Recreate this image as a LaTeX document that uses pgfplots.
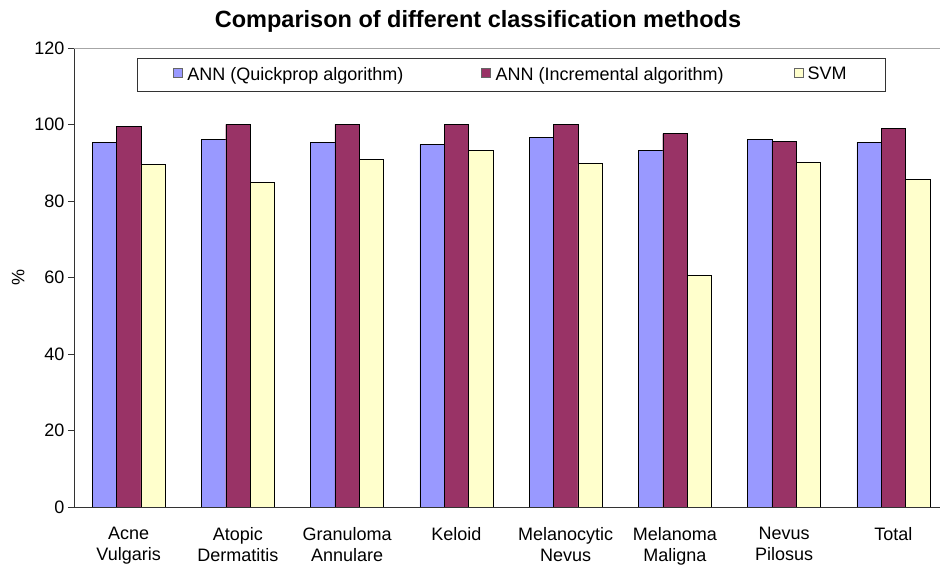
\documentclass[border=0pt]{standalone}
\usepackage{pgfplots}
\pgfplotsset{compat=1.18}
\usepackage{fontspec}
\setmainfont{Liberation Sans}
\definecolor{annq}{HTML}{9999FF}
\definecolor{anni}{HTML}{993366}
\definecolor{svm}{HTML}{FFFFCC}
\begin{document}
\begin{tikzpicture}
\begin{axis}[
  width=874pt, height=459pt, scale only axis,
  ybar=0pt, bar width=24.3pt,
  xmin=-0.5, xmax=7.5,
  ymin=0, ymax=120,
  ytick={0,20,...,120},
  xtick={0,...,7},
  xticklabels={{Acne\\Vulgaris},{Atopic\\Dermatitis},{Granuloma\\Annulare},{Keloid},{Melanocytic\\Nevus},{Melanoma\\Maligna},{Nevus\\Pilosus},{Total}},
  xticklabel style={align=center, anchor=north, yshift=-11pt},
  major x tick style={draw=none},
  extra x ticks={-0.5,0.5,...,7.5},
  extra x tick labels={},
  extra x tick style={major tick length=6pt, tick align=outside, tick style={draw=black}},
  tick align=outside, major tick length=6pt,
  axis x line*=bottom, axis y line*=left,
  axis line style={black!80, -},
  tick style={black!80},
  ylabel={\%},
  ylabel style={at={(axis description cs:-0.064,0.5)}, anchor=center},
  title={\bfseries Comparison of different classification methods},
  title style={font=\fontsize{23.5}{26}\selectfont, xshift=-33pt, yshift=6pt},
  font=\fontsize{18}{20.5}\selectfont,
  /pgf/number format/assume math mode=true,
  legend columns=3,
  legend style={at={(0.072,1)}, yshift=-10pt, anchor=north west, draw=black!80, fill=white,
    font=\fontsize{18}{20.5}\selectfont,
    inner xsep=36pt, inner ysep=7pt,
    /tikz/every even column/.append style={column sep=0pt}},
  legend image code/.code={\draw[#1, draw=black!60] (0pt,-3pt) rectangle (9pt,6pt);
    \path[draw=none, fill=none] (12pt,0pt);},
]
\coordinate (sw) at (rel axis cs:0,0);
\coordinate (ne) at (rel axis cs:1,1);
\draw[gray!70] (rel axis cs:0,1) -- (rel axis cs:1,1);
\addplot[fill=annq, draw=black] coordinates {(0,95.3)(1,96.1)(2,95.3)(3,94.8)(4,96.6)(5,93.3)(6,96.1)(7,95.3)};
\addplot[fill=anni, draw=black] coordinates {(0,99.6)(1,100)(2,100)(3,100)(4,100)(5,97.6)(6,95.6)(7,99.0)};
\addplot[fill=svm, draw=black] coordinates {(0,89.5)(1,84.8)(2,90.8)(3,93.2)(4,89.8)(5,60.6)(6,90.1)(7,85.6)};
\legend{\makebox[292pt][l]{ANN (Quickprop algorithm)},\makebox[296pt][l]{ANN (Incremental algorithm)},SVM}
\end{axis}
\pgfresetboundingbox
\path ([xshift=-74pt,yshift=-60pt]sw) rectangle ([xshift=866pt,yshift=48pt]sw |- ne);
\end{tikzpicture}
\end{document}
